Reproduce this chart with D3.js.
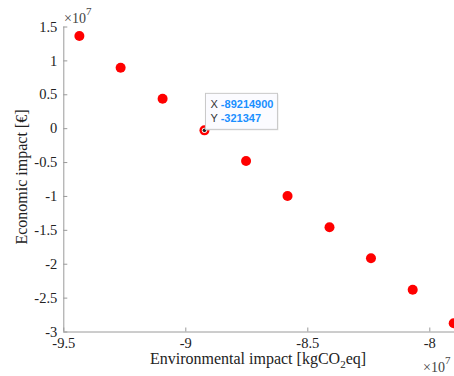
<!DOCTYPE html>
<html>
<head>
<meta charset="utf-8">
<script src="https://cdn.jsdelivr.net/npm/d3@7"></script>
<style>
  body { margin: 0; background: #fff; }
  svg { display: block; }
</style>
</head>
<body>
<div id="chart"></div>
<script>
// ---- data (raw units, axes shown in x10^7)
var envImpact = [-94340000, -92650000, -90930000, -89214900, -87510000,
                 -85810000, -84090000, -82390000, -80680000, -79000000];
var ecoImpact = [13600000, 8920000, 4350000, -321347, -4850000,
                 -10010000, -14630000, -19200000, -23830000, -28790000];
var xTicks = [-95000000, -90000000, -85000000, -80000000];
var yTicks = [15000000, 10000000, 5000000, 0, -5000000, -10000000,
              -15000000, -20000000, -25000000, -30000000];
var tipIndex = 3;

var W = 454, H = 376;
var margin = {top: 26.5, left: 63.3, bottom: 44.5};

var svg = d3.select("#chart").append("svg")
    .attr("width", W).attr("height", H);

var x = d3.scaleLinear().domain([-95000000, -78000000])
    .range([margin.left, margin.left + 1.7 * 244]);
var y = d3.scaleLinear().domain([-30000000, 15000000])
    .range([H - margin.bottom, margin.top]);

var fmt = function(d) { return String(+(d / 1e7).toFixed(1)); };
var axisColor = "#9a9a9a";
var serif = "'Liberation Serif', 'Times New Roman', serif";

// x axis (ticks pointing inward)
var gx = svg.append("g")
    .attr("transform", "translate(0," + y(-30000000) + ")")
    .call(d3.axisBottom(x).tickValues(xTicks).tickSize(-4).tickPadding(6)
        .tickFormat(fmt));
// y axis
var gy = svg.append("g")
    .attr("transform", "translate(" + margin.left + ",0)")
    .call(d3.axisLeft(y).tickValues(yTicks).tickSize(-4).tickPadding(6)
        .tickFormat(fmt));

[gx, gy].forEach(function(g) {
  g.select(".domain").attr("stroke", axisColor).attr("stroke-width", 1);
  g.selectAll(".tick line").attr("stroke", axisColor);
  g.selectAll(".tick text").attr("fill", "#222")
    .style("font-family", serif).style("font-size", "14.5px");
});
gx.select(".domain").attr("d", "M" + margin.left + ",0.5H" + (W + 30));
gy.select(".domain").attr("d", "M0.5," + y(-30000000) + "V" + y(15000000));

// exponent labels
function expLabel(px, py) {
  var t = svg.append("text").attr("x", px).attr("y", py)
      .style("font-family", serif).style("font-size", "14px").attr("fill", "#444");
  t.append("tspan").text("\u00d710");
  t.append("tspan").attr("dy", -8).style("font-size", "11px").text("7");
}
expLabel(64, 23);
expLabel(423, 372);

// axis labels
var xl = svg.append("text").attr("x", 258).attr("y", 364)
    .attr("text-anchor", "middle")
    .style("font-family", serif).style("font-size", "16px").attr("fill", "#222");
xl.append("tspan").text("Environmental impact [kgCO");
xl.append("tspan").attr("dy", 4).style("font-size", "11px").text("2");
xl.append("tspan").attr("dy", -4).text("eq]");

svg.append("text")
    .attr("transform", "translate(27," + 177 + ") rotate(-90)")
    .attr("text-anchor", "middle")
    .style("font-family", serif).style("font-size", "16px").attr("fill", "#222")
    .text("Economic impact [\u20ac]");

// points
var data = envImpact.map(function(v, i) { return {x: v, y: ecoImpact[i]}; });
svg.append("g").selectAll("circle").data(data).join("circle")
    .attr("cx", d => x(d.x)).attr("cy", d => y(d.y))
    .attr("r", 5).attr("fill", "#ff0000");

// data tip marker
var tip = data[tipIndex];
svg.append("circle").attr("cx", x(tip.x)).attr("cy", y(tip.y))
    .attr("r", 2.6).attr("fill", "#fff");
svg.append("circle").attr("cx", x(tip.x)).attr("cy", y(tip.y))
    .attr("r", 1.8).attr("fill", "#222");

// data tip box
var bx = x(tip.x) + 1, by = y(tip.y) - 37;
svg.append("rect").attr("x", bx + 1).attr("y", by + 1)
    .attr("width", 72).attr("height", 36).attr("fill", "#e4e4e4");
svg.append("rect").attr("x", bx).attr("y", by)
    .attr("width", 72).attr("height", 36)
    .attr("fill", "#fbfbff").attr("stroke", "#c8c8c8").attr("stroke-width", 1);
var tipFont = "'Liberation Sans', Arial, sans-serif";
[["X", tip.x], ["Y", Math.round(tip.y)]].forEach(function(r, i) {
  var t = svg.append("text").attr("x", bx + 5).attr("y", by + 15 + i * 14)
      .style("font-family", tipFont).style("font-size", "11px");
  t.append("tspan").attr("fill", "#333").text(r[0] + " ");
  t.append("tspan").attr("fill", "#1a8fff").style("font-weight", "bold").text(r[1]);
});
</script>
</body>
</html>
